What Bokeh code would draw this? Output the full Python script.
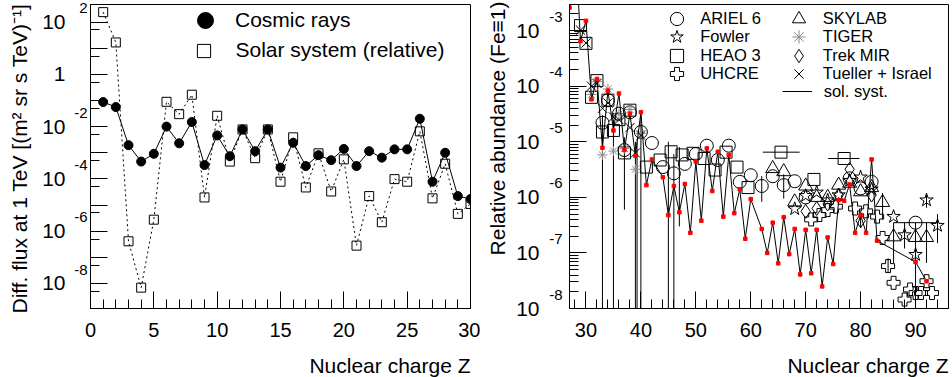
from bokeh.plotting import figure
from bokeh.models import (Legend, LegendItem, FixedTicker, CustomJSTickFormatter, LogAxis,
                          Range1d, LogScale, Title)
from bokeh.layouts import row
from bokeh.embed import file_html
from bokeh.resources import INLINE

FONT = "Liberation Sans"

# ---------------- left panel data ----------------
Z_LEFT = list(range(1, 31))
COSMIC_FLUX = [8.7e-2, 5.6e-2, 1.95e-3, 4.6e-4, 9.1e-4, 1.0e-2, 2.3e-3, 1.5e-2, 3.4e-4, 4.6e-3,
               7.4e-4, 7.8e-3, 1.15e-3, 7.8e-3, 2.7e-4, 2.4e-3, 3.1e-4, 8.1e-4, 5.2e-4, 1.4e-3,
               3.1e-4, 1.15e-3, 6.5e-4, 1.35e-3, 1.35e-3, 2.0e-2, 7.8e-5, 1.0e-3, 2.2e-5, 1.7e-5]
SOLAR_FLUX = [2.4e2, 1.66e1, 4.1e-7, 6.9e-9, 2.75e-6, 8.9e-2, 3.0e-2, 1.66e-1, 1.95e-5, 2.6e-2,
              4.6e-4, 7.8e-3, 6.2e-4, 7.8e-3, 7.8e-5, 3.9e-3, 4.7e-5, 9.5e-4, 3.3e-5, 5.6e-4,
              2.8e-7, 2.2e-5, 2.2e-6, 9.8e-5, 7.8e-5, 6.6e-3, 1.8e-5, 3.8e-4, 4.6e-6, 1.1e-5]
LEFT_X_TICKS = [0, 5, 10, 15, 20, 25, 30]
LEFT_X_MINOR = list(range(0, 31))
LEFT_Y_TICKS = [1e-8, 1e-7, 1e-6, 1e-5, 1e-4, 1e-3, 1e-2, 1e-1, 1e0, 1e1, 1e2]
LEFT_Y_MINOR = [5e-9, 5e-8, 5e-7, 5e-6, 5e-5, 5e-4, 5e-3, 5e-2, 5e-1, 5e0, 5e1]
LEFT_LABEL_TICKS = [1e-8, 1e-6, 1e-4, 1e-2, 1e0, 1e2]
LEFT_LABEL_BASE = ["10", "10", "10", "10", "1", "10"]
LEFT_LABEL_EXP = ["-8", "-6", "-4", "-2", "", "2"]
LEFT_X_RANGE = (0, 30)
LEFT_Y_RANGE = (1.1e-9, 4.7e2)

# ---------------- right panel data ----------------
SOL_Z = [27, 28, 29, 30, 31, 32, 33, 34, 35, 36, 37, 38, 39, 40, 41, 42, 44, 45, 46, 47, 48, 49,
         50, 51, 52, 53, 54, 55, 56, 57, 58, 59, 60, 62, 63, 64, 65, 66, 67, 68, 69, 70, 71, 72,
         73, 74, 75, 76, 77, 78, 79, 80, 81, 82, 83, 90, 92]
SOL_ABUND = [2.6e-3, 5.5e-2, 6.5e-4, 1.5e-3, 5.8e-5, 1.35e-4, 7.8e-6, 8.3e-5, 1.6e-5, 7.4e-5,
             7.1e-6, 3.2e-5, 5.6e-6, 3.4e-5, 1.66e-6, 4.8e-6, 2.3e-6, 4.8e-7, 1.6e-6, 5.4e-7,
             1.74e-6, 2.3e-7, 4.4e-6, 3.8e-7, 7.6e-6, 1.3e-6, 6.6e-6, 4.5e-7, 5.8e-6, 5.2e-7,
             1.4e-6, 1.8e-7, 9.3e-7, 2.7e-7, 1.0e-7, 3.5e-7, 6.5e-8, 4.4e-7, 9.5e-8, 2.7e-7,
             4.1e-8, 2.6e-7, 4.3e-8, 2.6e-7, 2.5e-8, 1.9e-7, 6.3e-8, 8.9e-7, 8.7e-7, 1.7e-6,
             2.3e-7, 4.8e-7, 2.3e-7, 4.8e-6, 1.66e-7, 6.9e-8, 3.1e-8]

ARIEL_Z = [33, 34, 36, 37, 38, 40, 42, 44, 46, 48, 50, 52, 54, 56, 58, 60, 62, 64, 66, 68, 70,
           78, 80, 82, 90]
ARIEL_VAL = [2.2e-5, 5.6e-5, 3.2e-5, 7.1e-6, 3.4e-5, 1.5e-5, 9.5e-6, 3.5e-6, 2.7e-6, 4.0e-6,
             6.0e-6, 8.5e-6, 4.7e-6, 8.5e-6, 1.9e-6, 2.5e-6, 1.6e-6, 2.4e-6, 1.66e-6, 1.95e-6,
             1.0e-6, 2.2e-6, 1.45e-6, 1.9e-6, 3.5e-7]

FOWLER_Z = [68, 70, 72, 74, 76, 78, 80, 82, 86, 88, 90, 92, 94]
FOWLER_VAL = [6.2e-7, 1.07e-6, 1.23e-6, 8.9e-7, 1.1e-6, 2.0e-6, 2.3e-6, 1.4e-6, 4.5e-7,
              2.1e-7, 9.3e-8, 8.9e-7, 3.1e-7]

HEAO_Z = [29, 30, 31, 32, 33, 34, 35, 36, 37, 38, 41, 43.5, 45.5, 47.5, 49.5, 51.5, 53.5, 55.5,
          57.5, 59.5, 65.5, 71.5, 77]
HEAO_VAL = [1.23e-3, 5.9e-4, 6.3e-5, 1.26e-4, 1.5e-5, 5.6e-5, 1.6e-5, 2.5e-5, 6.3e-6, 3.7e-5,
            3.5e-6, 4.7e-6, 6.6e-6, 5.8e-6, 6.2e-6, 5.0e-6, 3.1e-6, 6.5e-6, 3.5e-6, 1.5e-6,
            6.5e-6, 2.1e-6, 5.0e-6]

UHCRE_Z = [71, 72.5, 74, 75.5, 79, 81, 83, 84, 85, 86, 88, 89, 90, 91, 92, 93]
UHCRE_VAL = [4.0e-7, 4.8e-7, 5.9e-7, 6.8e-7, 6.3e-7, 5.6e-7, 4.5e-7, 1.86e-7, 5.8e-8, 2.9e-8,
             1.45e-8, 2.2e-8, 1.9e-8, 1.9e-8, 3.1e-8, 1.9e-8]

SKYLAB_Z = [64, 66, 68, 70, 72, 74, 76, 78, 80, 82, 84, 86, 90, 92]
SKYLAB_VAL = [3.3e-6, 2.9e-6, 8.3e-7, 1.6e-6, 1.0e-6, 1.0e-6, 1.66e-6, 1.8e-6, 1.26e-6,
              1.5e-6, 8.1e-7, 1.95e-7, 1.9e-7, 1.9e-7]

TIGER_Z = [31, 32, 33, 34, 35, 36, 37, 38, 39, 40]
TIGER_VAL = [7.1e-5, 1.2e-4, 5.8e-6, 8.9e-5, 6.8e-6, 3.2e-5, 7.6e-6, 3.8e-5, 3.2e-6, 1.4e-5]

TREK_Z = [70, 72, 74, 76, 78, 80, 82]
TREK_VAL = [5.6e-7, 6.3e-7, 7.6e-7, 1.1e-6, 3.2e-6, 3.8e-7, 1.1e-6]

TUELLER_Z = [29, 30, 31, 32, 33, 34, 35, 36, 38, 39, 40]
TUELLER_VAL = [1.02e-3, 6.0e-4, 1.0e-4, 1.12e-4, 4.0e-5, 5.0e-5, 2.8e-5, 2.5e-5, 1.8e-5,
               6.3e-6, 1.3e-5]

# vertical error bars (Z, lower, upper) and horizontal bin widths (Z low, Z high, value)
VERR_Z = [33, 35, 37, 39, 39.3, 40, 45, 46, 47, 62, 66, 84, 86, 88, 90, 92, 92, 94, 85, 80]
VERR_LO = [1e-9, 1e-9, 6.0e-7, 1e-9, 1e-9, 1e-9, 1e-9, 1e-9, 3.0e-7, 8.3e-7, 9.5e-7, 4.0e-7,
           6.6e-8, 1.2e-7, 1e-9, 6.6e-8, 6.5e-7, 1.5e-7, 4.5e-8, 2.8e-7]
VERR_HI = [3.0e-5, 2.5e-5, 1.2e-5, 1.0e-5, 1.0e-5, 3.0e-5, 1.0e-5, 6.0e-6, 8.0e-6, 2.4e-6,
           2.6e-6, 1.2e-6, 3.5e-7, 3.5e-7, 3.5e-7, 3.5e-7, 1.1e-6, 5.0e-7, 8.0e-8, 5.5e-7]
HERR_ZLO = [62.2, 74.1, 86.0]
HERR_ZHI = [68.9, 79.8, 93.9]
HERR_VAL = [6.5e-6, 5.0e-6, 3.5e-7]

RIGHT_X_TICKS = [30, 40, 50, 60, 70, 80, 90]
RIGHT_X_MINOR = list(range(28, 97, 2))
RIGHT_Y_TICKS = [1e-8, 1e-7, 1e-6, 1e-5, 1e-4, 1e-3]
RIGHT_Y_MINOR = [m * d for d in [1e-8, 1e-7, 1e-6, 1e-5, 1e-4, 1e-3] for m in range(2, 10)]
RIGHT_LABEL_TICKS = [1e-8, 1e-7, 1e-6, 1e-5, 1e-4, 1e-3]
RIGHT_LABEL_BASE = ["10", "10", "10", "10", "10", "10"]
RIGHT_LABEL_EXP = ["-8", "-7", "-6", "-5", "-4", "-3"]
RIGHT_X_RANGE = (27, 96)
RIGHT_Y_RANGE = (1e-8, 2.95e-3)

X_TITLE = "Nuclear charge Z"

LABEL_JS = """
let best = -1, bd = 1e9;
for (let i = 0; i < tv.length; i++) {
  const d = Math.abs(Math.log10(tick) - Math.log10(tv[i]));
  if (d < bd) { bd = d; best = i; }
}
return (bd < 0.01) ? labs[best] : "";
"""


def style_axes(p, xt, xm, yt, ym):
    p.xgrid.visible = False
    p.ygrid.visible = False
    p.outline_line_color = "black"
    p.outline_line_alpha = 1
    p.outline_line_width = 1
    p.background_fill_color = "white"
    p.border_fill_color = "white"
    p.xaxis.ticker = FixedTicker(ticks=xt, minor_ticks=xm)
    p.yaxis.ticker = FixedTicker(ticks=yt, minor_ticks=ym)
    for ax in (p.xaxis[0], p.yaxis[0]):
        ax.axis_line_color = "black"
        ax.major_tick_line_color = "black"
        ax.minor_tick_line_color = "black"
        ax.major_tick_in = 17
        ax.major_tick_out = 0
        ax.minor_tick_in = 9
        ax.minor_tick_out = 0
        ax.major_label_text_font = FONT
        ax.major_label_text_font_size = "20px"
        ax.major_label_text_color = "black"
    p.xaxis.major_label_standoff = 14
    # tiny blank axis label: only adds a few pixels between tick labels and the x title
    p.xaxis.axis_label = " "
    p.xaxis.axis_label_text_font_size = "1px"
    p.xaxis.axis_label_standoff = 7
    p.yaxis.formatter = CustomJSTickFormatter(code="return ''")
    p.yaxis.major_label_standoff = 0
    p.add_layout(Title(text=X_TITLE, align="right", standoff=2, text_font=FONT,
                       text_font_size="21px", text_font_style="normal",
                       text_color="black"), "below")


def label_axis(ticks, labels, size, standoff, range_name=None):
    kw = dict(ticker=FixedTicker(ticks=ticks, minor_ticks=[]),
              formatter=CustomJSTickFormatter(args=dict(tv=ticks, labs=labels), code=LABEL_JS),
              axis_line_color=None, major_tick_line_color=None, minor_tick_line_color=None,
              major_tick_in=0, major_tick_out=0, minor_tick_in=0, minor_tick_out=0,
              major_label_standoff=standoff, major_label_text_font=FONT,
              major_label_text_font_size=size, major_label_text_color="black")
    if range_name:
        kw["y_range_name"] = range_name
    return LogAxis(**kw)


def add_tick_labels(p, yr, shift_dec, ticks, base, exps, exp_std, ten_std):
    shift = 10 ** (-shift_dec)
    p.extra_y_ranges = {"exp": Range1d(yr[0] * shift, yr[1] * shift)}
    if "extra_y_scales" in p.properties():
        p.extra_y_scales = {"exp": LogScale()}
    p.add_layout(label_axis(ticks, exps, "15px", exp_std, "exp"), "left")
    p.add_layout(label_axis(ticks, base, "21px", ten_std), "left")


def add_ytitle(p, ytitle, y_offset, y_standoff):
    p.add_layout(Title(text=ytitle, align="right", vertical_align="top", offset=y_offset,
                       standoff=y_standoff, text_font=FONT, text_font_size="21px",
                       text_font_style="normal", text_color="black"), "left")


def legend_item(p, frame_h, renderer, label, cx, cy, tx, g, gh, size):
    # cx, cy: glyph centre in pixels from the frame's top-left corner; tx: text start
    lx = cx - g / 2.0
    bottom = cy + gh / 2.0
    leg = Legend(items=[LegendItem(label=label, renderers=[renderer])],
                 location=(lx, frame_h - bottom), padding=0, margin=0, spacing=0,
                 glyph_width=g, glyph_height=gh, label_height=gh,
                 label_standoff=int(round(tx - cx - g / 2.0)),
                 label_text_font=FONT, label_text_font_size=size,
                 label_text_color="black",
                 border_line_alpha=0, background_fill_alpha=0)
    p.add_layout(leg)


# ======================= LEFT PANEL =======================
FH1 = 306
p1 = figure(width=480, height=377, y_axis_type="log", x_range=LEFT_X_RANGE,
            y_range=LEFT_Y_RANGE, output_backend="svg", toolbar_location=None,
            min_border_left=90, min_border_right=10, min_border_top=4,
            min_border_bottom=67)
style_axes(p1, LEFT_X_TICKS, LEFT_X_MINOR, LEFT_Y_TICKS, LEFT_Y_MINOR)

p1.line(Z_LEFT, SOLAR_FLUX, line_color="black", line_width=1, line_dash="2 3")
p1.line(Z_LEFT, COSMIC_FLUX, line_color="black", line_width=1)
r_sol = p1.scatter(Z_LEFT, SOLAR_FLUX, marker="square", size=9, fill_alpha=0,
                   line_color="black", line_width=1)
r_cr = p1.scatter(Z_LEFT, COSMIC_FLUX, marker="circle", size=9, fill_color="black",
                  line_color="black")

legend_item(p1, FH1, r_cr, "Cosmic rays", 115, 18, 145, 40, 40, "21px")
legend_item(p1, FH1, r_sol, "Solar system (relative)", 113, 48.3, 145, 33, 33, "21px")

add_tick_labels(p1, LEFT_Y_RANGE, 0.53, LEFT_LABEL_TICKS, LEFT_LABEL_BASE, LEFT_LABEL_EXP,
                3, 6)
add_ytitle(p1, "Diff. flux at 1 TeV [(m² sr s TeV)⁻¹]", -1, 14)

# ======================= RIGHT PANEL =======================
FH2 = 305
p2 = figure(width=472, height=377, y_axis_type="log", x_range=RIGHT_X_RANGE,
            y_range=RIGHT_Y_RANGE, output_backend="svg", toolbar_location=None,
            min_border_left=89, min_border_right=4, min_border_top=4,
            min_border_bottom=68)
style_axes(p2, RIGHT_X_TICKS, RIGHT_X_MINOR, RIGHT_Y_TICKS, RIGHT_Y_MINOR)

p2.segment(VERR_Z, VERR_LO, VERR_Z, VERR_HI, line_color="black", line_width=1)
p2.segment(HERR_ZLO, HERR_VAL, HERR_ZHI, HERR_VAL, line_color="black", line_width=1)

mk = dict(fill_alpha=0, line_color="black", line_width=1)
r_ariel = p2.scatter(ARIEL_Z, ARIEL_VAL, marker="circle", size=13, **mk)
r_fowler = p2.scatter(FOWLER_Z, FOWLER_VAL, marker="star", size=14, **mk)
r_heao = p2.scatter(HEAO_Z, HEAO_VAL, marker="square", size=12, **mk)
r_uhcre = p2.scatter(UHCRE_Z, UHCRE_VAL, marker="plus", size=13, **mk)
r_sky = p2.scatter(SKYLAB_Z, SKYLAB_VAL, marker="triangle", size=14, **mk)
r_tiger = p2.scatter(TIGER_Z, TIGER_VAL, marker="asterisk", size=10, line_color="#8a8a8a",
                     line_width=1)
r_trek = p2.scatter(TREK_Z, TREK_VAL, marker="diamond", size=14, **mk)
r_tuel = p2.scatter(TUELLER_Z, TUELLER_VAL, marker="x", size=13, line_color="black",
                    line_width=1)
r_solline = p2.line(SOL_Z, SOL_ABUND, line_color="black", line_width=1)
p2.scatter(SOL_Z, SOL_ABUND, marker="square", size=3.5, fill_color="red", line_color="red")

rows = [15.3, 33.3, 52.0, 70.0, 88.5]
col1 = [(r_ariel, "ARIEL 6"), (r_fowler, "Fowler"), (r_heao, "HEAO 3"), (r_uhcre, "UHCRE")]
col2 = [(r_sky, "SKYLAB"), (r_tiger, "TIGER"), (r_trek, "Trek MIR"),
        (r_tuel, "Tueller + Israel")]
for (r, lab), cy in zip(col1, rows):
    legend_item(p2, FH2, r, lab, 107.7, cy, 131, 33, 33, "16.5px")
for (r, lab), cy in zip(col2, rows):
    legend_item(p2, FH2, r, lab, 229.3, cy, 254.3, 33, 33, "16.5px")
legend_item(p2, FH2, r_solline, "sol. syst.", 227.7, rows[4], 254.3, 30, 18, "16.5px")

add_tick_labels(p2, RIGHT_Y_RANGE, 0.25, RIGHT_LABEL_TICKS, RIGHT_LABEL_BASE,
                RIGHT_LABEL_EXP, 7, 7)
add_ytitle(p2, "Relative abundance (Fe≡1)", -3, 6)

layout = row(p1, p2)
open("out.html", "w").write(file_html(layout, INLINE))
